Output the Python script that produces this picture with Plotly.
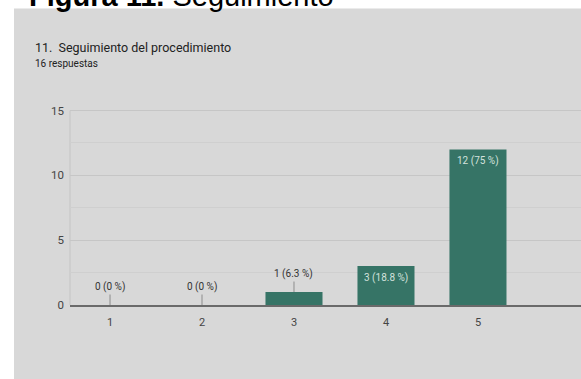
import plotly.graph_objects as go
from decimal import Decimal, ROUND_HALF_UP

# Survey responses for question 11 (scale 1-5)
categories = [1, 2, 3, 4, 5]
counts = [0, 0, 1, 3, 12]
total_responses = 16
y_ticks = [0, 5, 10, 15]

W, H = 581, 379
M_L, M_R, M_T, M_B = 70, 0, 108, 74
PLOT_W = W - M_L - M_R
PLOT_H = H - M_T - M_B

BG = "#d8d8d8"
BAR = "#367466"
FONT = "Roboto, Liberation Sans, sans-serif"


def px_x(px):
    return (px - M_L) / PLOT_W


def px_y(py):
    return (H - M_B - py) / PLOT_H


def pct_label(n):
    p = Decimal(n * 100) / Decimal(total_responses)
    p = p.quantize(Decimal("0.1"), rounding=ROUND_HALF_UP)
    s = format(p.normalize(), "f")
    return f"{n} ({s} %)"


fig = go.Figure()
fig.add_trace(go.Bar(
    x=categories, y=counts, width=0.62,
    marker=dict(color=BAR, line=dict(width=0)),
    hoverinfo="skip",
))

annotations = []
for c, v in zip(categories, counts):
    if v >= 3:
        annotations.append(dict(
            x=c, y=v, xref="x", yref="y", text=pct_label(v), showarrow=False,
            yanchor="top", yshift=-4,
            font=dict(family=FONT, size=10, color="#d3e2dd"),
        ))
    else:
        annotations.append(dict(
            x=c, y=v, xref="x", yref="y", text=pct_label(v), showarrow=True,
            arrowhead=0, arrowwidth=1, arrowcolor="#8c8c8c", ax=0, ay=-18,
            font=dict(family=FONT, size=10, color="#333333"),
        ))

# Headings
annotations += [
    dict(x=px_x(27), y=px_y(-4.5), xref="paper", yref="paper", xanchor="left",
         yanchor="middle", showarrow=False, text="<b>Figura 11.</b> Seguimiento",
         font=dict(family="Liberation Sans, Arial, sans-serif", size=29, color="#000000")),
    dict(x=px_x(33), y=px_y(47), xref="paper", yref="paper", xanchor="left",
         yanchor="middle", showarrow=False,
         text="11.\u00a0\u00a0Seguimiento del procedimiento",
         font=dict(family=FONT, size=12.5, color="#222222")),
    dict(x=px_x(33), y=px_y(63), xref="paper", yref="paper", xanchor="left",
         yanchor="middle", showarrow=False, text=f"{total_responses} respuestas",
         font=dict(family=FONT, size=10, color="#222222")),
]

fig.update_layout(
    width=W, height=H,
    margin=dict(l=M_L, r=M_R, t=M_T, b=M_B, pad=0),
    paper_bgcolor="#ffffff", plot_bgcolor=BG,
    showlegend=False,
    bargap=0.38,
    annotations=annotations,
    shapes=[dict(type="rect", xref="paper", yref="paper", layer="below",
                 x0=px_x(14), x1=1, y0=px_y(H), y1=px_y(8.5),
                 fillcolor=BG, line=dict(width=0))],
    xaxis=dict(
        range=[0.565, 6.12], tickvals=categories, ticktext=[str(c) for c in categories],
        showgrid=False, zeroline=False, showline=True, linecolor="#6a6a6a", linewidth=2,
        ticks="", ticklabelstandoff=6,
        tickfont=dict(family=FONT, size=11, color="#444444"),
        fixedrange=True,
    ),
    yaxis=dict(
        range=[0, 15.2], tickvals=y_ticks, showgrid=True, gridcolor="#c6c6c6", gridwidth=1,
        minor=dict(dtick=2.5, showgrid=True, gridcolor="#cfcfcf", gridwidth=1),
        zeroline=False, showline=False,
        ticks="", ticklabelstandoff=5,
        tickfont=dict(family=FONT, size=11.5, color="#444444"),
        fixedrange=True,
    ),
)

# light vertical rule along the value axis, from 0 up to the top tick
fig.add_shape(type="line", xref="paper", yref="y", x0=0, x1=0, y0=0, y1=y_ticks[-1],
              line=dict(color="#c4c4c4", width=1), layer="below")

fig.write_html("out.html", config={"displayModeBar": False})
